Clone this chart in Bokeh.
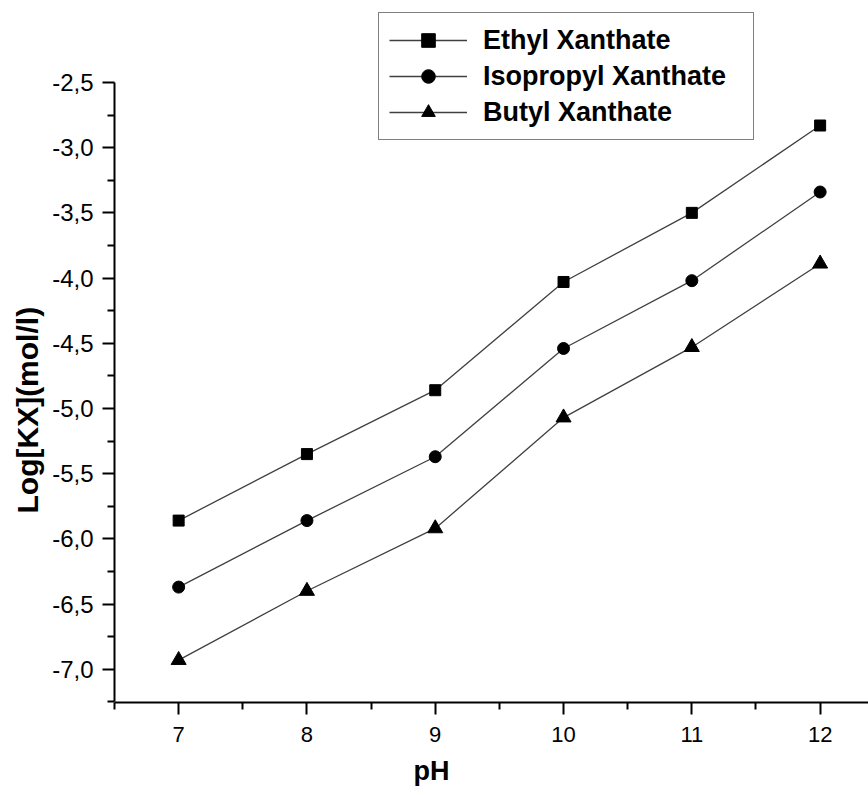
from bokeh.plotting import figure
from bokeh.models import (FixedTicker, CustomJSTickFormatter, Legend, Range1d, Title)
from bokeh.embed import file_html
from bokeh.resources import INLINE

# ---- data ----
ph = [7, 8, 9, 10, 11, 12]
ethyl = [-5.86, -5.35, -4.86, -4.03, -3.50, -2.83]
isopropyl = [-6.37, -5.86, -5.37, -4.54, -4.02, -3.34]
butyl = [-6.93, -6.40, -5.92, -5.07, -4.53, -3.89]

x_ticks = [7, 8, 9, 10, 11, 12]
x_minor = [6.5, 7.5, 8.5, 9.5, 10.5, 11.5]
y_ticks = [-7.0, -6.5, -6.0, -5.5, -5.0, -4.5, -4.0, -3.5, -3.0, -2.5]
y_minor = [-7.25, -6.75, -6.25, -5.75, -5.25, -4.75, -4.25, -3.75, -3.25, -2.75]

x_title = "pH"
y_title = "Log[KX](mol/l)"
series_names = ["Ethyl Xanthate", "Isopropyl Xanthate", "Butyl Xanthate"]

FONT = "Liberation Sans"

p = figure(width=868, height=795, output_backend="svg", toolbar_location=None,
           x_range=Range1d(6.5, 12.377), y_range=Range1d(-7.255, -1.948),
           min_border_left=114, min_border_right=0, min_border_top=10,
           min_border_bottom=93)
p.outline_line_color = None
p.xgrid.visible = False
p.ygrid.visible = False
p.background_fill_color = "white"
p.border_fill_color = "white"

line_kw = dict(line_color="#404040", line_width=1.3)
r1 = p.line(ph, ethyl, **line_kw)
s1 = p.scatter(ph, ethyl, marker="square", size=11, color="black")
r2 = p.line(ph, isopropyl, **line_kw)
s2 = p.scatter(ph, isopropyl, marker="circle", size=12, color="black")
r3 = p.line(ph, butyl, **line_kw)
s3 = p.scatter(ph, butyl, marker="triangle", size=15, color="black")

for ax in (p.xaxis[0], p.yaxis[0]):
    ax.axis_line_width = 2
    ax.axis_line_color = "black"
    ax.major_tick_line_width = 2
    ax.minor_tick_line_width = 2
    ax.major_tick_line_color = "black"
    ax.minor_tick_line_color = "black"
    ax.major_tick_in = 0
    ax.major_tick_out = 12
    ax.minor_tick_in = 0
    ax.minor_tick_out = 7
    ax.major_label_text_font = FONT
    ax.major_label_text_color = "black"

p.xaxis.major_label_text_font_size = "22px"
p.xaxis.major_label_standoff = 12
p.yaxis.major_label_text_font_size = "24px"
p.yaxis.major_label_standoff = 9

p.xaxis.ticker = FixedTicker(ticks=x_ticks, minor_ticks=x_minor)
p.yaxis.ticker = FixedTicker(ticks=y_ticks, minor_ticks=y_minor)
p.yaxis.formatter = CustomJSTickFormatter(code="return tick.toFixed(1).replace('.', ',');")
p.yaxis.bounds = (-7.25, -2.5)

p.add_layout(Title(text=x_title, align="left", offset=299, standoff=18,
                   text_font=FONT, text_font_style="bold", text_font_size="27px",
                   text_color="black"), "below")
p.add_layout(Title(text=y_title, align="left", offset=189, standoff=12,
                   text_font=FONT, text_font_style="bold", text_font_size="30px",
                   text_color="black"), "left")

legend = Legend(items=[(series_names[0], [r1, s1]),
                       (series_names[1], [r2, s2]),
                       (series_names[2], [r3, s3])],
                location=(264, 562))
legend.label_text_font = FONT
legend.label_text_font_style = "bold"
legend.label_text_font_size = "27px"
legend.label_text_color = "black"
legend.border_line_color = "black"
legend.border_line_width = 1.5
legend.background_fill_alpha = 1
legend.padding = 10
legend.margin = 0
legend.spacing = 2
legend.glyph_width = 78
legend.glyph_height = 34
legend.label_height = 34
legend.label_standoff = 16
legend.label_width = 260
p.add_layout(legend, "center")

open("out.html", "w").write(file_html(p, INLINE))
